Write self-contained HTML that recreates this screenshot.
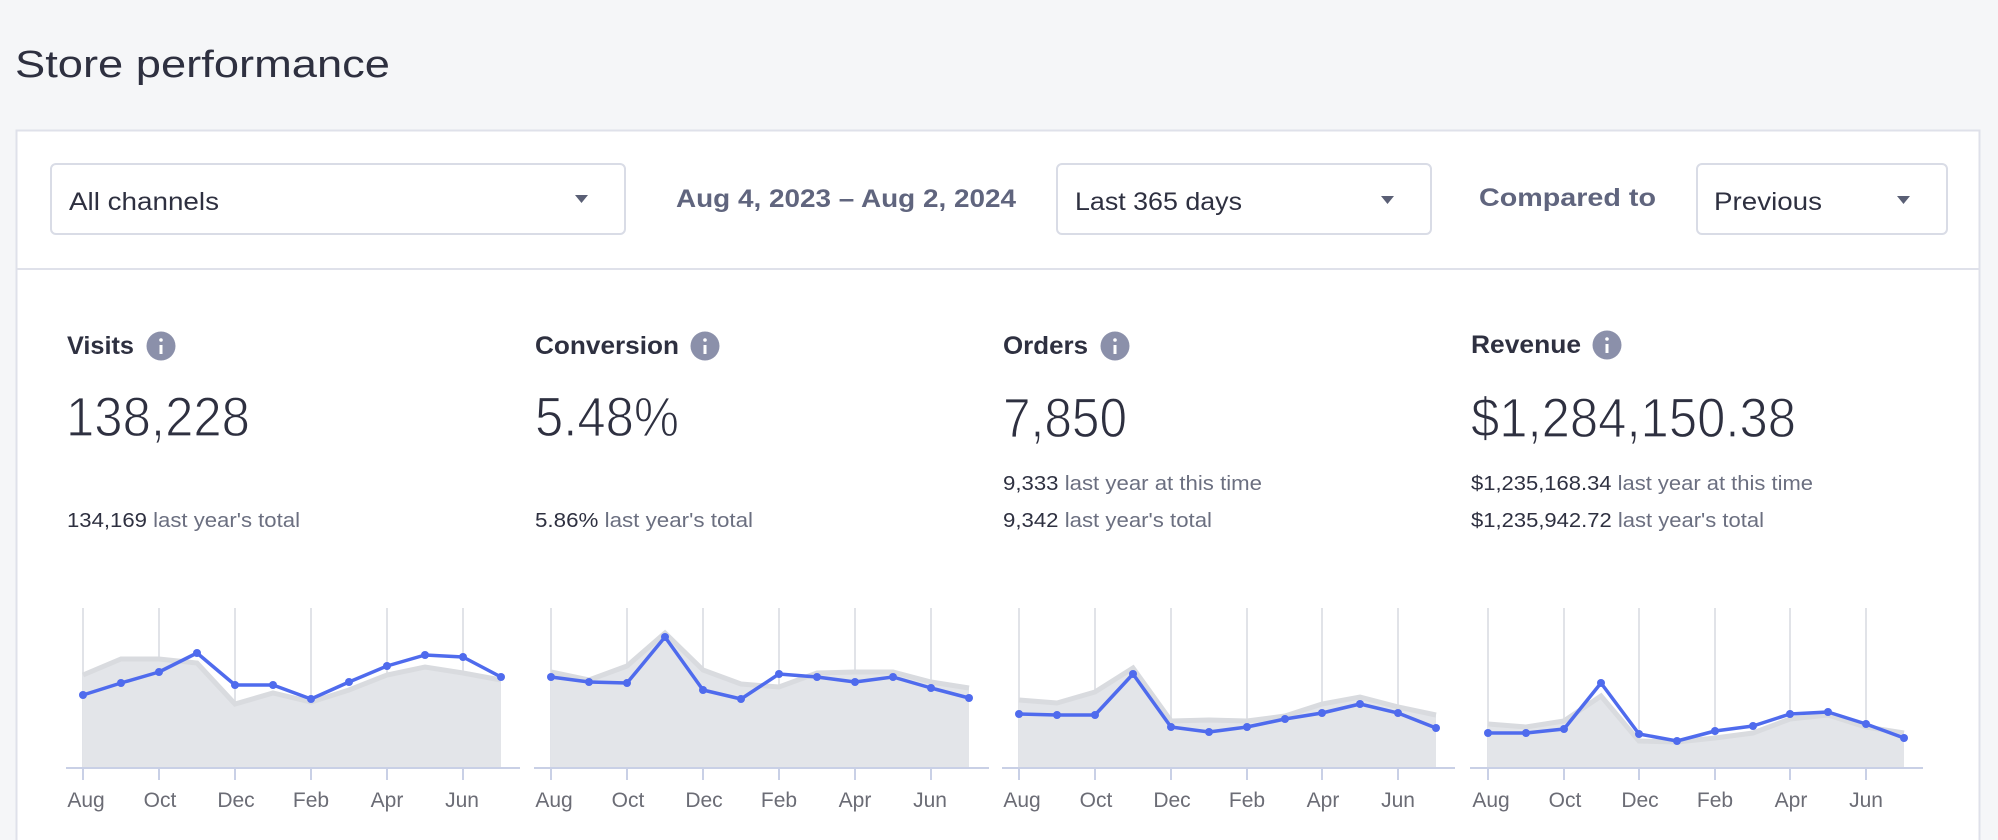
<!DOCTYPE html>
<html><head><meta charset="utf-8"><style>
html,body{margin:0;padding:0;background:#f5f6f8;}
svg{display:block;font-family:"Liberation Sans",sans-serif;}
</style></head><body>
<svg width="1998" height="840" viewBox="0 0 1998 840" xmlns="http://www.w3.org/2000/svg">
<rect width="1998" height="840" fill="#f5f6f8"/>
<text x="15" y="77" font-size="38" fill="#2e3040" textLength="375" lengthAdjust="spacingAndGlyphs">Store performance</text>
<rect x="16.5" y="130.5" width="1963" height="720" fill="#fff" stroke="#dfe1ea" stroke-width="2"/>
<line x1="17" y1="269" x2="1979" y2="269" stroke="#dfe1ea" stroke-width="2"/>
<rect x="51" y="164" width="574" height="70" rx="5" fill="#fff" stroke="#d9dce6" stroke-width="2"/>
<text x="69" y="210" font-size="25" fill="#2e3040" textLength="150" lengthAdjust="spacingAndGlyphs">All channels</text>
<path d="M575 195 L588 195 L581.5 203 Z" fill="#5a5f75"/>
<text x="676" y="207" font-size="25" font-weight="bold" fill="#60657e" textLength="340" lengthAdjust="spacingAndGlyphs">Aug 4, 2023 – Aug 2, 2024</text>
<rect x="1057" y="164" width="374" height="70" rx="5" fill="#fff" stroke="#d9dce6" stroke-width="2"/>
<text x="1075" y="210" font-size="25" fill="#2e3040" textLength="167" lengthAdjust="spacingAndGlyphs">Last 365 days</text>
<path d="M1381 196 L1394 196 L1387.5 204 Z" fill="#5a5f75"/>
<text x="1479" y="206" font-size="25" font-weight="bold" fill="#60657e" textLength="177" lengthAdjust="spacingAndGlyphs">Compared to</text>
<rect x="1697" y="164" width="250" height="70" rx="5" fill="#fff" stroke="#d9dce6" stroke-width="2"/>
<text x="1714" y="210" font-size="25" fill="#2e3040" textLength="108" lengthAdjust="spacingAndGlyphs">Previous</text>
<path d="M1897 196 L1910 196 L1903.5 204 Z" fill="#5a5f75"/>
<g font-size="25" font-weight="bold" fill="#2e3040">
<text x="67" y="354" textLength="67" lengthAdjust="spacingAndGlyphs">Visits</text>
<text x="535" y="354" textLength="144" lengthAdjust="spacingAndGlyphs">Conversion</text>
<text x="1003" y="354" textLength="85" lengthAdjust="spacingAndGlyphs">Orders</text>
<text x="1471" y="353" textLength="110" lengthAdjust="spacingAndGlyphs">Revenue</text>
</g>
<g fill="#8b90aa">
<circle cx="161" cy="346" r="14.5"/><circle cx="705" cy="346" r="14.5"/><circle cx="1115" cy="346" r="14.5"/><circle cx="1607" cy="345" r="14.5"/>
</g>
<g fill="#fff">
<rect x="159.5" y="345" width="3" height="9"/><circle cx="161" cy="340" r="1.8"/>
<rect x="703.5" y="345" width="3" height="9"/><circle cx="705" cy="340" r="1.8"/>
<rect x="1113.5" y="345" width="3" height="9"/><circle cx="1115" cy="340" r="1.8"/>
<rect x="1605.5" y="344" width="3" height="9"/><circle cx="1607" cy="339" r="1.8"/>
</g>
<g font-size="56" fill="#2e3040" stroke="#fff" stroke-width="1.2">
<text x="66" y="436" textLength="184" lengthAdjust="spacingAndGlyphs">138,228</text>
<text x="535" y="436" textLength="144" lengthAdjust="spacingAndGlyphs">5.48%</text>
<text x="1003" y="437" textLength="124" lengthAdjust="spacingAndGlyphs">7,850</text>
<text x="1471" y="437" textLength="325" lengthAdjust="spacingAndGlyphs">$1,284,150.38</text>
</g>
<g font-size="20" fill="#6b6f80">
<text x="67" y="527" textLength="233" lengthAdjust="spacingAndGlyphs"><tspan fill="#2e3040">134,169</tspan> last year's total</text>
<text x="535" y="527" textLength="218" lengthAdjust="spacingAndGlyphs"><tspan fill="#2e3040">5.86%</tspan> last year's total</text>
<text x="1003" y="490" textLength="259" lengthAdjust="spacingAndGlyphs"><tspan fill="#2e3040">9,333</tspan> last year at this time</text>
<text x="1003" y="527" textLength="209" lengthAdjust="spacingAndGlyphs"><tspan fill="#2e3040">9,342</tspan> last year's total</text>
<text x="1471" y="490" textLength="342" lengthAdjust="spacingAndGlyphs"><tspan fill="#2e3040">$1,235,168.34</tspan> last year at this time</text>
<text x="1471" y="527" textLength="293" lengthAdjust="spacingAndGlyphs"><tspan fill="#2e3040">$1,235,942.72</tspan> last year's total</text>
</g>

<g>
<g stroke="#e1e3e8" stroke-width="2"><line x1="83" y1="608" x2="83" y2="768"/><line x1="159" y1="608" x2="159" y2="768"/><line x1="235" y1="608" x2="235" y2="768"/><line x1="311" y1="608" x2="311" y2="768"/><line x1="387" y1="608" x2="387" y2="768"/><line x1="463" y1="608" x2="463" y2="768"/></g>
<polygon points="83,768 83,675 121,659 159,659 197,663 235,704 273,693 311,702 349,690 387,675 425,667 463,673 501,680 501,768" fill="#e3e5e9"/>
<polyline points="83,675 121,659 159,659 197,663 235,704 273,693 311,702 349,690 387,675 425,667 463,673 501,680" fill="none" stroke="#d9dbdf" stroke-width="5"/>
<g stroke="#c9d0e6" stroke-width="2"><line x1="66" y1="768" x2="520" y2="768"/><line x1="83" y1="768" x2="83" y2="780"/><line x1="159" y1="768" x2="159" y2="780"/><line x1="235" y1="768" x2="235" y2="780"/><line x1="311" y1="768" x2="311" y2="780"/><line x1="387" y1="768" x2="387" y2="780"/><line x1="463" y1="768" x2="463" y2="780"/></g>
<polyline points="83,695 121,683 159,672 197,653 235,685 273,685 311,699 349,682 387,666 425,655 463,657 501,677" fill="none" stroke="#4f6bed" stroke-width="3.5" stroke-linejoin="round"/>
<g fill="#4f6bed"><circle cx="83" cy="695" r="4"/><circle cx="121" cy="683" r="4"/><circle cx="159" cy="672" r="4"/><circle cx="197" cy="653" r="4"/><circle cx="235" cy="685" r="4"/><circle cx="273" cy="685" r="4"/><circle cx="311" cy="699" r="4"/><circle cx="349" cy="682" r="4"/><circle cx="387" cy="666" r="4"/><circle cx="425" cy="655" r="4"/><circle cx="463" cy="657" r="4"/><circle cx="501" cy="677" r="4"/></g>
<g font-size="21" fill="#6b6c75" text-anchor="middle"><text x="86" y="807">Aug</text><text x="160" y="807">Oct</text><text x="236" y="807">Dec</text><text x="311" y="807">Feb</text><text x="387" y="807">Apr</text><text x="462" y="807">Jun</text></g>
</g>

<g>
<g stroke="#e1e3e8" stroke-width="2"><line x1="551" y1="608" x2="551" y2="768"/><line x1="627" y1="608" x2="627" y2="768"/><line x1="703" y1="608" x2="703" y2="768"/><line x1="779" y1="608" x2="779" y2="768"/><line x1="855" y1="608" x2="855" y2="768"/><line x1="931" y1="608" x2="931" y2="768"/></g>
<polygon points="551,768 551,672 589,680 627,666 665,633 703,670 741,684 779,687 817,673 855,672 893,672 931,682 969,688 969,768" fill="#e3e5e9"/>
<polyline points="551,672 589,680 627,666 665,633 703,670 741,684 779,687 817,673 855,672 893,672 931,682 969,688" fill="none" stroke="#d9dbdf" stroke-width="5"/>
<g stroke="#c9d0e6" stroke-width="2"><line x1="534" y1="768" x2="989" y2="768"/><line x1="551" y1="768" x2="551" y2="780"/><line x1="627" y1="768" x2="627" y2="780"/><line x1="703" y1="768" x2="703" y2="780"/><line x1="779" y1="768" x2="779" y2="780"/><line x1="855" y1="768" x2="855" y2="780"/><line x1="931" y1="768" x2="931" y2="780"/></g>
<polyline points="551,677 589,682 627,683 665,637 703,690 741,699 779,674 817,677 855,682 893,677 931,688 969,698" fill="none" stroke="#4f6bed" stroke-width="3.5" stroke-linejoin="round"/>
<g fill="#4f6bed"><circle cx="551" cy="677" r="4"/><circle cx="589" cy="682" r="4"/><circle cx="627" cy="683" r="4"/><circle cx="665" cy="637" r="4"/><circle cx="703" cy="690" r="4"/><circle cx="741" cy="699" r="4"/><circle cx="779" cy="674" r="4"/><circle cx="817" cy="677" r="4"/><circle cx="855" cy="682" r="4"/><circle cx="893" cy="677" r="4"/><circle cx="931" cy="688" r="4"/><circle cx="969" cy="698" r="4"/></g>
<g font-size="21" fill="#6b6c75" text-anchor="middle"><text x="554" y="807">Aug</text><text x="628" y="807">Oct</text><text x="704" y="807">Dec</text><text x="779" y="807">Feb</text><text x="855" y="807">Apr</text><text x="930" y="807">Jun</text></g>
</g>

<g>
<g stroke="#e1e3e8" stroke-width="2"><line x1="1019" y1="608" x2="1019" y2="768"/><line x1="1095" y1="608" x2="1095" y2="768"/><line x1="1171" y1="608" x2="1171" y2="768"/><line x1="1247" y1="608" x2="1247" y2="768"/><line x1="1322" y1="608" x2="1322" y2="768"/><line x1="1398" y1="608" x2="1398" y2="768"/></g>
<polygon points="1019,768 1019,700 1057,703 1095,692 1133,668 1171,721 1209,720 1247,721 1285,716 1322,704 1360,697 1398,707 1436,715 1436,768" fill="#e3e5e9"/>
<polyline points="1019,700 1057,703 1095,692 1133,668 1171,721 1209,720 1247,721 1285,716 1322,704 1360,697 1398,707 1436,715" fill="none" stroke="#d9dbdf" stroke-width="5"/>
<g stroke="#c9d0e6" stroke-width="2"><line x1="1002" y1="768" x2="1455" y2="768"/><line x1="1019" y1="768" x2="1019" y2="780"/><line x1="1095" y1="768" x2="1095" y2="780"/><line x1="1171" y1="768" x2="1171" y2="780"/><line x1="1247" y1="768" x2="1247" y2="780"/><line x1="1322" y1="768" x2="1322" y2="780"/><line x1="1398" y1="768" x2="1398" y2="780"/></g>
<polyline points="1019,714 1057,715 1095,715 1133,674 1171,727 1209,732 1247,727 1285,719 1322,713 1360,704 1398,713 1436,728" fill="none" stroke="#4f6bed" stroke-width="3.5" stroke-linejoin="round"/>
<g fill="#4f6bed"><circle cx="1019" cy="714" r="4"/><circle cx="1057" cy="715" r="4"/><circle cx="1095" cy="715" r="4"/><circle cx="1133" cy="674" r="4"/><circle cx="1171" cy="727" r="4"/><circle cx="1209" cy="732" r="4"/><circle cx="1247" cy="727" r="4"/><circle cx="1285" cy="719" r="4"/><circle cx="1322" cy="713" r="4"/><circle cx="1360" cy="704" r="4"/><circle cx="1398" cy="713" r="4"/><circle cx="1436" cy="728" r="4"/></g>
<g font-size="21" fill="#6b6c75" text-anchor="middle"><text x="1022" y="807">Aug</text><text x="1096" y="807">Oct</text><text x="1172" y="807">Dec</text><text x="1247" y="807">Feb</text><text x="1323" y="807">Apr</text><text x="1398" y="807">Jun</text></g>
</g>

<g>
<g stroke="#e1e3e8" stroke-width="2"><line x1="1488" y1="608" x2="1488" y2="768"/><line x1="1564" y1="608" x2="1564" y2="768"/><line x1="1639" y1="608" x2="1639" y2="768"/><line x1="1715" y1="608" x2="1715" y2="768"/><line x1="1790" y1="608" x2="1790" y2="768"/><line x1="1866" y1="608" x2="1866" y2="768"/></g>
<polygon points="1488,768 1488,724 1526,727 1564,721 1601,696 1639,741 1677,742 1715,738 1753,733 1790,719 1828,715 1866,727 1904,733 1904,768" fill="#e3e5e9"/>
<polyline points="1488,724 1526,727 1564,721 1601,696 1639,741 1677,742 1715,738 1753,733 1790,719 1828,715 1866,727 1904,733" fill="none" stroke="#d9dbdf" stroke-width="5"/>
<g stroke="#c9d0e6" stroke-width="2"><line x1="1470" y1="768" x2="1923" y2="768"/><line x1="1488" y1="768" x2="1488" y2="780"/><line x1="1564" y1="768" x2="1564" y2="780"/><line x1="1639" y1="768" x2="1639" y2="780"/><line x1="1715" y1="768" x2="1715" y2="780"/><line x1="1790" y1="768" x2="1790" y2="780"/><line x1="1866" y1="768" x2="1866" y2="780"/></g>
<polyline points="1488,733 1526,733 1564,729 1601,683 1639,734 1677,741 1715,731 1753,726 1790,714 1828,712 1866,724 1904,738" fill="none" stroke="#4f6bed" stroke-width="3.5" stroke-linejoin="round"/>
<g fill="#4f6bed"><circle cx="1488" cy="733" r="4"/><circle cx="1526" cy="733" r="4"/><circle cx="1564" cy="729" r="4"/><circle cx="1601" cy="683" r="4"/><circle cx="1639" cy="734" r="4"/><circle cx="1677" cy="741" r="4"/><circle cx="1715" cy="731" r="4"/><circle cx="1753" cy="726" r="4"/><circle cx="1790" cy="714" r="4"/><circle cx="1828" cy="712" r="4"/><circle cx="1866" cy="724" r="4"/><circle cx="1904" cy="738" r="4"/></g>
<g font-size="21" fill="#6b6c75" text-anchor="middle"><text x="1491" y="807">Aug</text><text x="1565" y="807">Oct</text><text x="1640" y="807">Dec</text><text x="1715" y="807">Feb</text><text x="1791" y="807">Apr</text><text x="1866" y="807">Jun</text></g>
</g>
</svg>
</body></html>
